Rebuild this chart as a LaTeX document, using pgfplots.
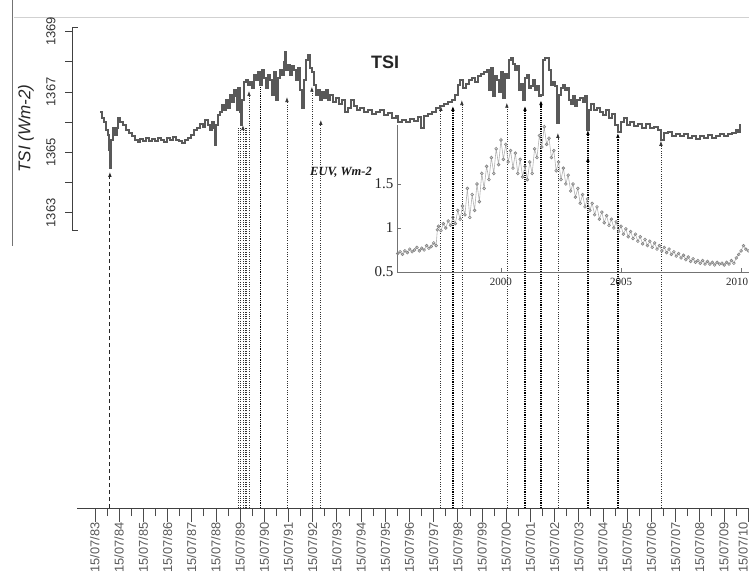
\documentclass[border=0pt]{standalone}
\usepackage{fontspec}
\setmainfont{Liberation Sans}
\newfontfamily\timesf{Liberation Serif}
\usepackage{pgfplots}
\pgfplotsset{compat=1.18}
\usetikzlibrary{arrows.meta}
\pgfplotsset{
  /pgf/number format/1000 sep={},
  /pgf/number format/assume math mode=true,
  lightv/.style={black!80, line width=0.7pt, dash pattern=on 1pt off 1.3pt},
  heavyv/.style={black, line width=1.3pt, dash pattern=on 1.2pt off 1pt},
  dashv/.style={black!85, line width=0.9pt, dash pattern=on 4pt off 3pt},
  arrowup/.style={-{Latex[length=5pt,width=3.6pt]}},
}
\begin{document}
\begin{tikzpicture}
% scan frame remnants
\draw[black!55, line width=0.8pt] (12pt,574pt) -- (12pt,328pt);
\draw[black!18, line width=0.7pt] (14pt,557pt) -- (749pt,557pt);

% ---------- main date axis with event lines ----------
\begin{axis}[
  at={(77pt,66pt)}, anchor=south west, scale only axis,
  width=672pt, height=481pt,
  xmin=1982.80, xmax=2010.58, ymin=1353.21, ymax=1369.15,
  axis x line*=bottom, axis y line=none,
  axis line style={black!75, line width=0.8pt},
  clip=false,
  xtick={1983.54,1984.54,1985.54,1986.54,1987.54,1988.54,1989.54,1990.54,1991.54,1992.54,1993.54,1994.54,1995.54,1996.54,1997.54,1998.54,1999.54,2000.54,2001.54,2002.54,2003.54,2004.54,2005.54,2006.54,2007.54,2008.54,2009.54},
  xticklabels={15/07/83,15/07/84,15/07/85,15/07/86,15/07/87,15/07/88,15/07/89,15/07/90,15/07/91,15/07/92,15/07/93,15/07/94,15/07/95,15/07/96,15/07/97,15/07/98,15/07/99,15/07/00,15/07/01,15/07/02,15/07/03,15/07/04,15/07/05,15/07/06,15/07/07,15/07/08,15/07/09},
  extra x ticks={2010.54}, extra x tick labels={15/07/10},
  extra x tick style={xticklabel style={anchor=south east}},
  minor xtick={1984.04,1985.04,1986.04,1987.04,1988.04,1989.04,1990.04,1991.04,1992.04,1993.04,1994.04,1995.04,1996.04,1997.04,1998.04,1999.04,2000.04,2001.04,2002.04,2003.04,2004.04,2005.04,2006.04,2007.04,2008.04,2009.04,2010.04},
  tick align=outside, major tick length=14pt, minor tick length=8pt,
  every tick/.style={black!70, line width=0.7pt},
  xticklabel shift=0.5pt,
  xticklabel style={rotate=90, anchor=east, inner sep=0pt, font=\fontsize{12.8}{13}\selectfont, text=black!65},
]
\addplot[dashv, arrowup] coordinates {(1984.16,1353.21) (1984.16,1364.35)};
\addplot[lightv] coordinates {(1989.49,1353.21) (1989.49,1365.84)};
\addplot[lightv] coordinates {(1989.57,1353.21) (1989.57,1365.84)};
\addplot[lightv, arrowup] coordinates {(1989.66,1353.21) (1989.66,1365.90)};
\addplot[lightv] coordinates {(1989.74,1353.21) (1989.74,1365.84)};
\addplot[lightv] coordinates {(1989.82,1353.21) (1989.82,1365.84)};
\addplot[lightv, arrowup] coordinates {(1989.91,1353.21) (1989.91,1367.03)};
\addplot[heavyv, arrowup] coordinates {(1990.40,1353.21) (1990.40,1367.40)};
\addplot[lightv, arrowup] coordinates {(1991.48,1353.21) (1991.48,1366.83)};
\addplot[lightv, arrowup] coordinates {(1992.51,1353.21) (1992.51,1367.17)};
\addplot[lightv, arrowup] coordinates {(1992.88,1353.21) (1992.88,1366.07)};
\addplot[lightv, arrowup] coordinates {(1997.84,1353.21) (1997.84,1366.54)};
\addplot[heavyv, arrowup] coordinates {(1998.34,1353.21) (1998.34,1366.54)};
\addplot[lightv, arrowup] coordinates {(1998.71,1353.21) (1998.71,1366.73)};
\addplot[lightv, arrowup] coordinates {(2000.57,1353.21) (2000.57,1366.64)};
\addplot[heavyv, arrowup] coordinates {(2001.32,1353.21) (2001.32,1366.54)};
\addplot[heavyv, arrowup] coordinates {(2001.98,1353.21) (2001.98,1366.73)};
\addplot[lightv, arrowup] coordinates {(2002.68,1353.21) (2002.68,1365.64)};
\addplot[heavyv, arrowup] coordinates {(2003.92,1353.21) (2003.92,1364.85)};
\addplot[heavyv, arrowup] coordinates {(2003.92,1353.21) (2003.92,1365.74)};
\addplot[heavyv, arrowup] coordinates {(2005.16,1353.21) (2005.16,1365.64)};
\addplot[lightv, arrowup] coordinates {(2006.94,1353.21) (2006.94,1365.38)};
\end{axis}

% ---------- TSI axis ----------
\begin{axis}[
  at={(72pt,344pt)}, anchor=south west, scale only axis,
  width=677pt, height=203pt,
  xmin=1982.59, xmax=2010.58, ymin=1362.43, ymax=1369.15,
  axis y line*=left, axis x line=none,
  axis line style={black!75, line width=0.8pt},
  ytick={1363,1365,1367,1369}, minor ytick={1364,1366,1368},
  extra y ticks={1362.43,1369.15}, extra y tick labels={},
  extra y tick style={tick align=inside, major tick length=6pt},
  tick align=outside, major tick length=7pt, minor tick length=7pt,
  every tick/.style={black!75, line width=0.7pt},
  yticklabel shift=6pt,
  yticklabel style={rotate=90, anchor=south, font=\fontsize{13}{13}\selectfont, text=black!80},
  ylabel={TSI (Wm-2)},
  ylabel style={at={(axis description cs:-0.068,0.5)}, anchor=center, font=\itshape\fontsize{17}{17}\selectfont, text=black!85},
  clip=false,
]
\addplot[const plot, black!65, line width=1.9pt] coordinates {
(1983.75,1366.34) (1983.83,1366.14) (1983.91,1366.01) (1984.00,1365.74) (1984.08,1365.57)
(1984.12,1365.08) (1984.16,1364.48) (1984.20,1365.41) (1984.28,1365.81) (1984.37,1365.57)
(1984.45,1365.81) (1984.49,1366.14) (1984.57,1366.01) (1984.70,1365.91) (1984.82,1365.74)
(1984.95,1365.64) (1985.07,1365.54) (1985.19,1365.41) (1985.32,1365.34) (1985.40,1365.44)
(1985.52,1365.38) (1985.65,1365.48) (1985.77,1365.38) (1985.90,1365.44) (1986.02,1365.38)
(1986.14,1365.48) (1986.27,1365.41) (1986.39,1365.34) (1986.52,1365.48) (1986.64,1365.41)
(1986.76,1365.51) (1986.89,1365.41) (1987.01,1365.38) (1987.14,1365.31) (1987.26,1365.41)
(1987.38,1365.48) (1987.51,1365.57) (1987.63,1365.74) (1987.76,1365.81) (1987.88,1365.94)
(1988.00,1365.84) (1988.09,1366.07) (1988.21,1365.91) (1988.29,1365.74) (1988.38,1366.01)
(1988.46,1365.81) (1988.50,1365.24) (1988.54,1365.91) (1988.62,1366.24) (1988.71,1366.34)
(1988.79,1366.57) (1988.87,1366.40) (1988.96,1366.73) (1989.04,1366.47) (1989.12,1366.90)
(1989.20,1366.67) (1989.29,1367.07) (1989.37,1366.87) (1989.41,1366.40) (1989.45,1367.13)
(1989.53,1366.34) (1989.58,1365.91) (1989.62,1366.73) (1989.70,1367.33) (1989.78,1367.40)
(1989.87,1367.23) (1989.95,1367.33) (1990.03,1367.13) (1990.11,1367.56) (1990.20,1367.40)
(1990.28,1367.66) (1990.36,1367.23) (1990.44,1367.73) (1990.53,1367.46) (1990.61,1367.13)
(1990.69,1367.56) (1990.77,1367.40) (1990.86,1366.90) (1990.94,1367.66) (1991.02,1366.73)
(1991.11,1367.46) (1991.19,1367.73) (1991.27,1367.56) (1991.35,1368.00) (1991.40,1368.33)
(1991.44,1367.73) (1991.52,1367.90) (1991.60,1367.56) (1991.68,1367.86) (1991.77,1367.73)
(1991.85,1367.40) (1991.93,1367.80) (1992.01,1367.07) (1992.10,1366.47) (1992.18,1367.40)
(1992.26,1368.06) (1992.35,1368.23) (1992.43,1367.80) (1992.51,1367.66) (1992.59,1367.23)
(1992.68,1366.90) (1992.76,1367.07) (1992.84,1366.73) (1992.92,1367.00) (1993.01,1366.80)
(1993.09,1367.07) (1993.17,1366.73) (1993.25,1366.90) (1993.38,1366.67) (1993.50,1366.80)
(1993.63,1366.60) (1993.75,1366.73) (1993.87,1366.34) (1994.00,1366.47) (1994.12,1366.73)
(1994.25,1366.54) (1994.37,1366.40) (1994.49,1366.47) (1994.66,1366.34) (1994.83,1366.40)
(1994.99,1366.27) (1995.16,1366.34) (1995.32,1366.40) (1995.49,1366.24) (1995.65,1366.30)
(1995.82,1366.14) (1995.98,1366.20) (1996.07,1366.01) (1996.23,1366.07) (1996.40,1366.01)
(1996.56,1366.10) (1996.73,1366.04) (1996.89,1366.17) (1997.02,1365.81) (1997.14,1366.20)
(1997.31,1366.27) (1997.47,1366.34) (1997.64,1366.47) (1997.80,1366.54) (1997.97,1366.60)
(1998.13,1366.67) (1998.30,1366.73) (1998.42,1366.90) (1998.55,1367.23) (1998.63,1367.40)
(1998.75,1367.13) (1998.88,1367.27) (1999.00,1367.40) (1999.13,1367.46) (1999.25,1367.33)
(1999.37,1367.53) (1999.50,1367.60) (1999.62,1367.66) (1999.75,1367.73) (1999.83,1367.07)
(1999.91,1367.80) (1999.99,1366.87) (2000.08,1367.53) (2000.16,1367.40) (2000.24,1367.00)
(2000.32,1367.66) (2000.41,1366.80) (2000.49,1367.60) (2000.57,1367.46) (2000.65,1368.06)
(2000.74,1368.13) (2000.82,1367.93) (2000.90,1367.73) (2000.99,1367.86) (2001.07,1367.07)
(2001.15,1367.27) (2001.23,1366.73) (2001.32,1367.46) (2001.40,1367.56) (2001.48,1367.13)
(2001.56,1367.20) (2001.65,1367.40) (2001.73,1367.07) (2001.81,1367.20) (2001.90,1366.87)
(2001.98,1366.90) (2002.06,1368.06) (2002.14,1368.13) (2002.23,1368.13) (2002.31,1367.73)
(2002.39,1367.23) (2002.47,1367.33) (2002.56,1367.20) (2002.64,1365.97) (2002.72,1366.90)
(2002.80,1367.13) (2002.89,1367.23) (2002.97,1367.07) (2003.05,1367.13) (2003.14,1366.73)
(2003.22,1366.60) (2003.30,1366.87) (2003.38,1366.54) (2003.47,1366.73) (2003.59,1366.80)
(2003.71,1366.67) (2003.80,1366.87) (2003.88,1365.74) (2003.96,1366.40) (2004.04,1366.60)
(2004.17,1366.40) (2004.29,1366.47) (2004.42,1366.34) (2004.54,1366.24) (2004.66,1366.40)
(2004.79,1366.14) (2004.91,1366.27) (2005.04,1365.91) (2005.16,1365.67) (2005.28,1366.01)
(2005.41,1366.14) (2005.53,1365.91) (2005.66,1366.01) (2005.82,1365.87) (2005.99,1365.94)
(2006.15,1365.81) (2006.32,1365.94) (2006.48,1365.81) (2006.65,1365.84) (2006.81,1365.74)
(2006.94,1365.41) (2007.06,1365.64) (2007.23,1365.67) (2007.39,1365.54) (2007.56,1365.61)
(2007.72,1365.54) (2007.89,1365.61) (2008.05,1365.48) (2008.22,1365.54) (2008.38,1365.44)
(2008.55,1365.54) (2008.72,1365.48) (2008.88,1365.57) (2009.05,1365.48) (2009.21,1365.54)
(2009.38,1365.61) (2009.54,1365.54) (2009.71,1365.61) (2009.87,1365.64) (2010.04,1365.74)
(2010.12,1365.67) (2010.20,1365.94)
};
\end{axis}

% ---------- EUV inset ----------
\begin{axis}[
  at={(397pt,302pt)}, anchor=south west, scale only axis,
  width=352pt, height=147pt,
  xmin=1995.67, xmax=2010.33, ymin=0.5, ymax=2.17,
  axis x line*=bottom, axis y line*=left,
  axis line style={black!55, line width=0.9pt},
  xtick={2000,2005}, ytick={0.5,1,1.5},
  extra x ticks={2010},
  extra x tick style={xticklabel style={xshift=-4pt}},
  tick align=inside, major tick length=4pt,
  every tick/.style={black!55, line width=0.7pt},
  xticklabel shift=3pt,
  xticklabel style={font=\timesf\fontsize{11}{11}\selectfont, text=black!85},
  yticklabel style={font=\timesf\fontsize{15}{15}\selectfont, text=black!85},
]
\addplot[black!30, line width=0.6pt, mark=o, mark size=1.4pt, mark options={black!50, line width=0.6pt}] coordinates {
(1995.7,0.71) (1995.8,0.73) (1995.9,0.70) (1996.0,0.74) (1996.1,0.72)
(1996.2,0.76) (1996.3,0.73) (1996.4,0.75) (1996.5,0.78) (1996.6,0.74) (1996.7,0.77)
(1996.8,0.75) (1996.9,0.80) (1997.0,0.77) (1997.1,0.79) (1997.2,0.83) (1997.3,0.80)
(1997.35,0.98) (1997.4,1.02) (1997.5,0.97) (1997.6,1.05) (1997.7,1.00) (1997.8,1.08)
(1997.9,1.03) (1998.0,1.12) (1998.1,1.05) (1998.2,1.20) (1998.3,1.10) (1998.4,1.25)
(1998.5,1.15) (1998.6,1.45) (1998.7,1.12) (1998.8,1.38) (1998.9,1.20) (1999.0,1.50)
(1999.1,1.30) (1999.2,1.62) (1999.3,1.45) (1999.4,1.70) (1999.5,1.55) (1999.6,1.80)
(1999.7,1.62) (1999.8,1.90) (1999.9,1.72) (2000.0,2.00) (2000.1,1.78) (2000.2,1.95)
(2000.3,1.75) (2000.4,1.88) (2000.5,1.68) (2000.6,1.85) (2000.7,1.62) (2000.8,1.78)
(2000.9,1.58) (2001.0,1.70) (2001.1,1.55) (2001.2,1.75) (2001.3,1.62) (2001.4,1.90)
(2001.5,1.80) (2001.6,2.05) (2001.7,1.92) (2001.8,2.15) (2001.9,1.95) (2002.0,2.02)
(2002.1,1.80) (2002.2,1.88) (2002.3,1.65) (2002.4,1.75) (2002.5,1.55) (2002.6,1.68)
(2002.7,1.50) (2002.8,1.60) (2002.9,1.42) (2003.0,1.50) (2003.1,1.35) (2003.2,1.45)
(2003.3,1.28) (2003.4,1.38) (2003.5,1.24) (2003.6,1.33) (2003.7,1.20) (2003.8,1.28)
(2003.9,1.15) (2004.0,1.24) (2004.1,1.10) (2004.2,1.18) (2004.3,1.06) (2004.4,1.14)
(2004.5,1.03) (2004.6,1.10) (2004.7,1.00) (2004.8,1.07) (2004.9,0.96) (2005.0,1.02)
(2005.1,0.93) (2005.2,0.99) (2005.3,0.90) (2005.4,0.96) (2005.5,0.88) (2005.6,0.93)
(2005.7,0.85) (2005.8,0.90) (2005.9,0.82) (2006.0,0.87) (2006.1,0.80) (2006.2,0.85)
(2006.3,0.78) (2006.4,0.83) (2006.5,0.76) (2006.6,0.80) (2006.7,0.74) (2006.8,0.78)
(2006.9,0.72) (2007.0,0.76) (2007.1,0.70) (2007.2,0.73) (2007.3,0.68) (2007.4,0.71)
(2007.5,0.66) (2007.6,0.69) (2007.7,0.64) (2007.8,0.67) (2007.9,0.62) (2008.0,0.65)
(2008.1,0.61) (2008.2,0.63) (2008.3,0.60) (2008.4,0.63) (2008.5,0.59) (2008.6,0.62)
(2008.7,0.59) (2008.8,0.61) (2008.9,0.58) (2009.0,0.61) (2009.1,0.59) (2009.2,0.60)
(2009.3,0.58) (2009.4,0.61) (2009.5,0.59) (2009.6,0.63) (2009.7,0.60) (2009.8,0.66)
(2009.9,0.70) (2010.0,0.74) (2010.1,0.80) (2010.2,0.76) (2010.3,0.74)
};
\end{axis}

\node[font=\bfseries\fontsize{18}{18}\selectfont, text=black!85] at (385pt,512pt) {TSI};
\node[font=\timesf\bfseries\itshape\fontsize{12.5}{13}\selectfont, text=black!90] at (341pt,402pt) {EUV, Wm-2};

\pgfresetboundingbox
\useasboundingbox (0pt,0pt) rectangle (749pt,574pt);
\end{tikzpicture}
\end{document}
